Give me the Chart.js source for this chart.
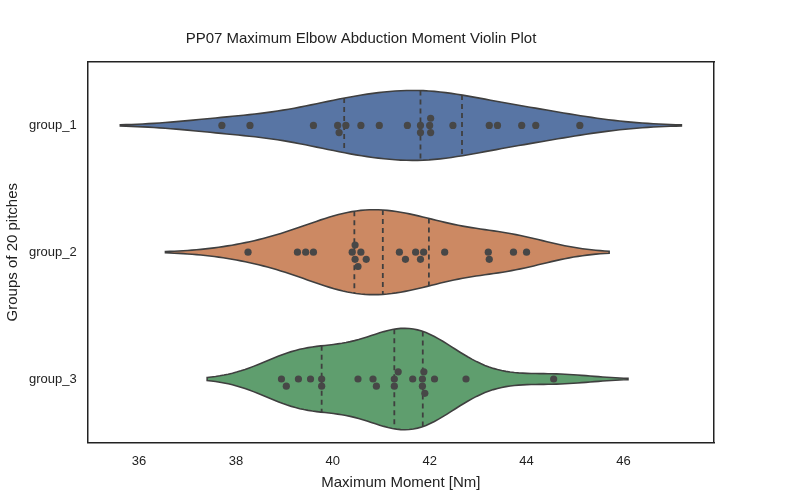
<!DOCTYPE html>
<html><head><meta charset="utf-8">
<script src="https://cdn.jsdelivr.net/npm/chart.js@4"></script>
<style>body{margin:0;background:#fff}#w{width:800px;height:500px}</style>
</head><body><div id="w"><canvas id="c"></canvas></div>
<script>
const categories = ["group_1","group_2","group_3"];
const group1 = [37.71,38.29,39.60,40.10,40.13,40.27,40.58,40.96,41.54,41.81,42.00,42.02,42.02,42.48,43.23,43.40,43.90,44.19,45.10,41.81];
const group2 = [38.25,39.27,39.44,39.60,40.40,40.46,40.52,40.58,40.69,41.375,41.50,41.71,41.81,41.875,42.31,43.21,43.23,43.73,44.00,40.46];
const group3 = [38.94,39.04,39.29,39.54,39.77,40.52,40.83,40.90,41.27,41.35,41.65,41.85,41.88,41.90,42.10,42.75,44.56,41.85,39.77,41.27];
const xTicks = [36,38,40,42,44,46];
const colors = ["#5875a4","#cc8963","#5f9e6e"];
const groups=[group1,group2,group3];

function stats(a){const n=a.length,m=a.reduce((s,v)=>s+v,0)/n;const sd=Math.sqrt(a.reduce((s,v)=>s+(v-m)**2,0)/(n-1));return {n,bw:sd*Math.pow(n,-0.2)};}
function kde(a,bw,x){let s=0;for(const v of a){const z=(x-v)/bw;s+=Math.exp(-0.5*z*z);}return s/(a.length*bw*Math.sqrt(2*Math.PI));}
function q(a,p){const s=[...a].sort((x,y)=>x-y);const i=(s.length-1)*p,lo=Math.floor(i),hi=Math.ceil(i);return s[lo]+(s[hi]-s[lo])*(i-lo);}
const violins=groups.map(a=>{const {bw}=stats(a);const lo=Math.min(...a)-2*bw,hi=Math.max(...a)+2*bw;const xs=[],ds=[];for(let i=0;i<=100;i++){const x=lo+(hi-lo)*i/100;xs.push(x);ds.push(kde(a,bw,x));}return {a,bw,xs,ds,max:Math.max(...ds)};});
const gmax=Math.max(...violins.map(v=>v.max));

// swarm offsets
function swarm(a,gi){const px=48,py=127.5,d=7.2;const placed=[];const out=[];
 [...a].sort((x,y)=>x-y).forEach(v=>{let k=0,off=0;while(true){off=(k===0?0:(k%2?1:-1)*Math.ceil(k/2)*d);if(!placed.some(p=>Math.hypot((p.x-v)*px,p.o-off)<d-0.01))break;k++;}placed.push({x:v,o:off});out.push({x:v,y:gi+off/py});});return out;}

const violinPlugin={id:'violins',beforeDatasetsDraw(ch){const c=ch.ctx,xs=ch.scales.x,ys=ch.scales.y;c.save();c.beginPath();c.rect(ch.chartArea.left,ch.chartArea.top,ch.chartArea.right-ch.chartArea.left,ch.chartArea.bottom-ch.chartArea.top);c.clip();
 violins.forEach((v,gi)=>{const w=d=>d/gmax*0.4;c.beginPath();v.xs.forEach((x,i)=>{const X=xs.getPixelForValue(x),Y=ys.getPixelForValue(gi-w(v.ds[i]));i?c.lineTo(X,Y):c.moveTo(X,Y);});for(let i=v.xs.length-1;i>=0;i--)c.lineTo(xs.getPixelForValue(v.xs[i]),ys.getPixelForValue(gi+w(v.ds[i])));c.closePath();c.fillStyle=colors[gi];c.fill();c.strokeStyle='#3f3f3f';c.lineWidth=1.6;c.stroke();
 [0.25,0.5,0.75].forEach(p=>{const x=q(v.a,p),h=w(kde(v.a,v.bw,x));const X=xs.getPixelForValue(x);c.beginPath();c.setLineDash([5,4]);c.moveTo(X,ys.getPixelForValue(gi-h));c.lineTo(X,ys.getPixelForValue(gi+h));c.lineWidth=1.8;c.stroke();c.setLineDash([]);});});c.restore();}};

new Chart(document.getElementById('c'),{type:'scatter',
 data:{datasets:groups.map((a,gi)=>({data:swarm(a,gi),pointRadius:3.6,pointBackgroundColor:'#474747',pointBorderWidth:0}))},
 options:{responsive:true,maintainAspectRatio:false,animation:false,
  layout:{padding:{left:0,right:78,top:30,bottom:4}},
  plugins:{legend:{display:false},tooltip:{enabled:false},
   title:{display:true,text:'PP07 Maximum Elbow Abduction Moment Violin Plot',color:'#222',font:{family:'Liberation Sans',size:15,weight:'normal'},padding:{bottom:6}}},
  scales:{
   x:{type:'linear',min:34.94,max:47.87,afterBuildTicks:s=>{s.ticks=xTicks.map(v=>({value:v}));},grid:{display:false},border:{color:'#222',width:1.5},
      ticks:{color:'#222',font:{family:'Liberation Sans',size:13}},title:{display:true,text:'Maximum Moment [Nm]',color:'#222',font:{family:'Liberation Sans',size:15},padding:{top:2}}},
   x2:{position:'top',display:true,grid:{display:false},ticks:{display:false},border:{color:'#222',width:1.5}},
   y:{type:'linear',min:-0.5,max:2.5,reverse:true,afterBuildTicks:s=>{s.ticks=categories.map((c,i)=>({value:i}));},grid:{display:false},border:{color:'#222',width:1.5},
      ticks:{color:'#222',font:{family:'Liberation Sans',size:13},callback:v=>categories[v]},title:{display:true,text:'Groups of 20 pitches',color:'#222',font:{family:'Liberation Sans',size:15}}},
   y2:{position:'right',display:true,grid:{display:false},ticks:{display:false},border:{color:'#222',width:1.5}}
  }},plugins:[violinPlugin]});
</script></body></html>
